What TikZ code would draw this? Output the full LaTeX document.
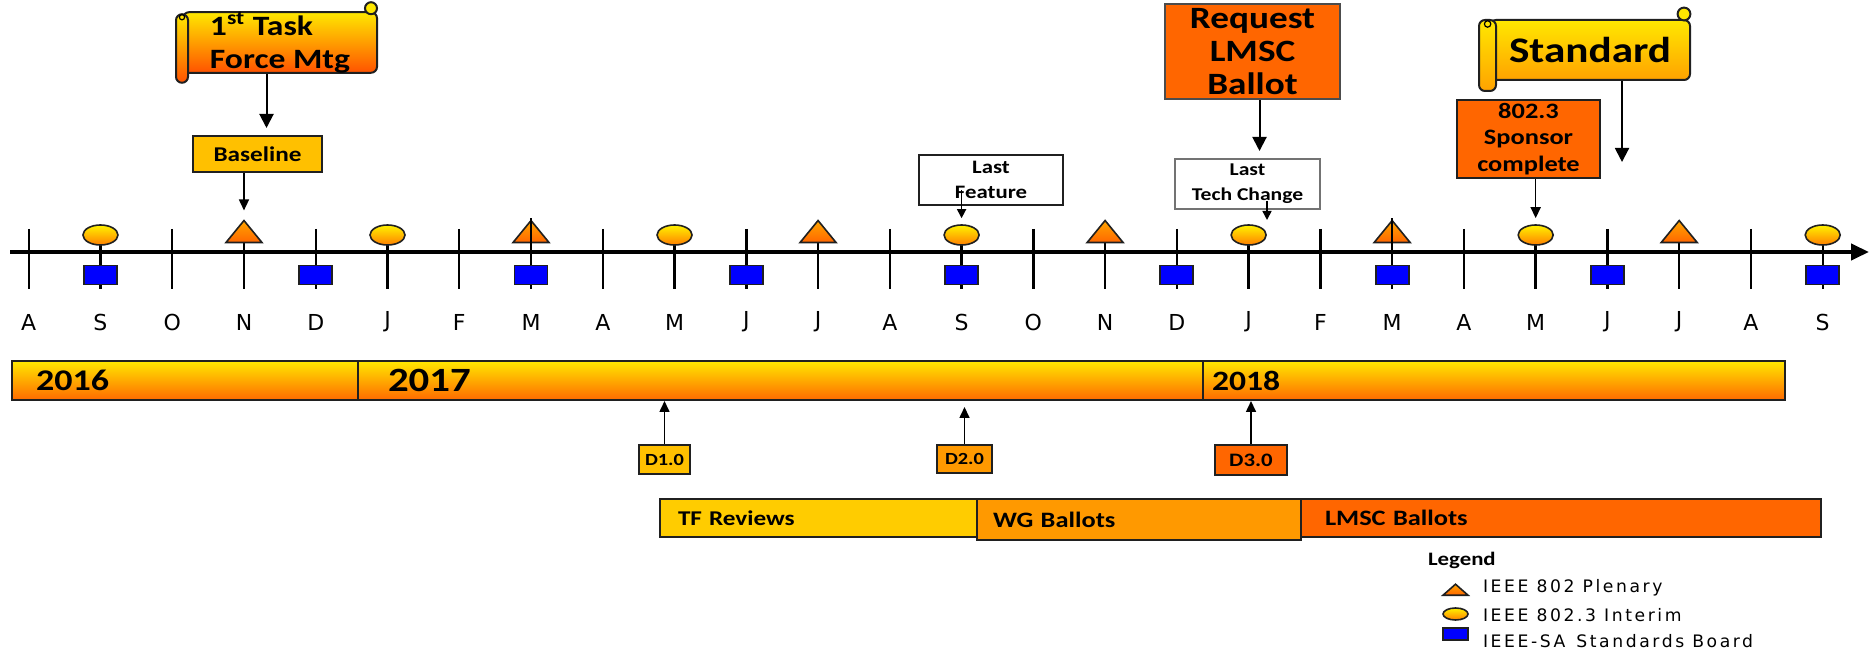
\documentclass[tikz,border=0pt]{standalone}
\usepackage{fontspec}
\setmainfont{Carlito}[FakeStretch=1.2]
\newfontfamily\monthfont{DejaVu Sans}
\newfontfamily\legfont{DejaVu Sans}[LetterSpace=15]
\usetikzlibrary{shapes.geometric,arrows.meta}

\definecolor{gold}{HTML}{FFC000}
\definecolor{tfyel}{HTML}{FFCC00}
\definecolor{midorg}{HTML}{FF9900}
\definecolor{deeporg}{HTML}{FF6600}
\definecolor{barTop}{HTML}{FFE800}
\definecolor{barBot}{HTML}{FF6A00}
\definecolor{stdBot}{HTML}{FFA200}
\definecolor{taskBot}{HTML}{FF5200}
\definecolor{sqblue}{HTML}{0000FF}
\definecolor{edge}{HTML}{202020}

\tikzset{
  box/.style={draw=edge, line width=1pt, inner sep=0pt, align=center},
  scrollbody/.style={draw=edge, line width=1pt, rounded corners=3pt, inner sep=0pt,
    top color=barTop, bottom color=#1},
  roll/.style={draw=edge, line width=1pt, rounded corners=3pt,
    top color=barTop, bottom color=#1},
  yearbar/.style={draw=edge, line width=1pt, top color=barTop, bottom color=barBot,
    minimum height=19.5pt, inner ysep=0pt, align=left},
  phase/.style={draw=edge, line width=1pt, minimum height=19pt, inner ysep=0pt,
    align=left, font=\bfseries\fontsize{11}{12}\selectfont},
  tick/.style={line width=1.2pt},
  month/.style={font=\monthfont\fontsize{11}{12}\selectfont},
  interim/.style={ellipse, draw=edge, line width=0.8pt, inner sep=0pt,
    top color=yellow!90!orange, bottom color=orange, minimum width=17.5pt, minimum height=10pt},
  plenary/.style={isosceles triangle, isosceles triangle stretches, shape border rotate=90,
    draw=edge, line width=0.8pt, inner sep=0pt, top color=orange!70!yellow,
    bottom color=orange!80!red, minimum width=18pt, minimum height=11pt},
  board/.style={draw=edge, line width=0.9pt, fill=sqblue, inner sep=0pt,
    minimum width=16.5pt, minimum height=9.5pt},
  bigarr/.style={line width=1pt, -{Triangle[width=7pt,length=7pt]}},
  midarr/.style={line width=0.8pt, -{Triangle[width=5pt,length=5.5pt]}},
  smallarr/.style={line width=0.8pt, -{Triangle[width=4.5pt,length=4.5pt]}},
  legtext/.style={anchor=west, font=\legfont\fontsize{8.6}{10}\selectfont}
}

\begin{document}
\begin{tikzpicture}[x=0.5pt, y=-0.5pt]
\useasboundingbox (0,0) rectangle (1872,651);

% time axis
\coordinate (ax0) at (10,252);
\coordinate (ax1) at (1869,252);
\draw[line width=2pt, -{Triangle[width=8pt,length=9pt]}] (ax0) -- (ax1);
\foreach \m [count=\i from 0] in {A,S,O,N,D,J,F,M,A,M,J,J,A,S,O,N,D,J,F,M,A,M,J,J,A,S}{
  \coordinate (t\i) at (28.7+71.76*\i,252);
  \draw[tick] (28.7+71.76*\i,229) -- (28.7+71.76*\i,289);
  \node[month] (m\i) at (28.7+71.76*\i,322) {\m};
}

% meetings
\foreach \i in {1,4,7,10,13,16,19,22,25}
  \node[board] (s\i) at (28.7+71.76*\i,275) {};
\foreach \i in {1,5,9,13,17,21,25}
  \node[interim] (e\i) at (28.7+71.76*\i,235) {};
\foreach \i in {3,7,11,15,19,23}
  \node[plenary] (p\i) at (28.7+71.76*\i,234) {};
\foreach \i in {7,19}
  \draw[tick] (t\i) -- (p\i.apex);

% milestones above the axis
\node[scrollbody=taskBot, minimum width=97pt, minimum height=27.5pt, align=left,
  font=\bfseries\fontsize{14}{16.5}\selectfont] (task) at (280,42.5)
  {1\textsuperscript{st} Task\\Force Mtg};
\draw[roll=taskBot] ([shift={(-3pt,-1.5pt)}]task.north west) rectangle ([shift={(3pt,-4.5pt)}]task.south west);
\draw[roll=barTop] ([shift={(-3.5pt,1.5pt)}]task.north east) circle (3pt);
\draw[line width=0.6pt] ([shift={(0pt,-3pt)}]task.north west) circle (1.3pt);

\node[box, fill=gold, minimum width=64.5pt, minimum height=18pt,
  font=\bfseries\fontsize{10.5}{12}\selectfont] (base) at (257.5,154) {Baseline};

\node[box, fill=white, minimum width=72pt, minimum height=25pt,
  font=\bfseries\fontsize{9.5}{12.5}\selectfont] (feat) at (991,180) {Last\\Feature};

\node[box, fill=deeporg, draw=black!70, minimum width=87.5pt, minimum height=47.5pt,
  font=\bfseries\fontsize{15.5}{16.4}\selectfont] (req) at (1252.5,51.5) {Request\\LMSC\\Ballot};

\node[box, fill=white, draw=black!55, minimum width=72.5pt, minimum height=25pt,
  font=\bfseries\fontsize{9}{12.5}\selectfont] (tech) at (1247.5,184) {Last\\Tech Change};

\node[box, fill=deeporg, minimum width=71.5pt, minimum height=39pt,
  font=\bfseries\fontsize{11}{13.3}\selectfont] (spon) at (1528.5,139) {802.3\\Sponsor\\complete};

\node[scrollbody=stdBot, minimum width=100pt, minimum height=30pt,
  font=\bfseries\fontsize{18}{20}\selectfont] (std) at (1590,50) {Standard};
\draw[roll=stdBot] ([shift={(-5pt,-0.5pt)}]std.north west) rectangle ([shift={(3.5pt,-5pt)}]std.south west);
\draw[roll=barTop] ([shift={(-3.5pt,2.5pt)}]std.north east) circle (3.2pt);
\draw[line width=0.6pt] ([shift={(-0.7pt,-2.5pt)}]std.north west) circle (1.6pt);

\coordinate (techend) at (1267,220);
\coordinate (stdend) at (1622,162);

\draw[bigarr, shorten >=3.5pt] ([xshift=4.5pt]base.north |- task.south) -- ([xshift=4.5pt]base.north);
\draw[midarr, shorten >=4pt] (base.south -| p3.apex) -- (p3.apex);
\draw[smallarr, shorten >=3pt] ([yshift=8pt]feat.south -| e13.north) -- (e13.north);
\draw[bigarr, shorten >=3.5pt] ([xshift=3.5pt]req.south) -- ([xshift=3.5pt]req.south |- tech.north);
\draw[smallarr] ([yshift=4.5pt]tech.south -| techend) -- (techend);
\draw[midarr, shorten >=3pt] (spon.south -| e21.north) -- (e21.north);
\draw[bigarr] (std.south -| stdend) -- (stdend);

% years
\node[yearbar, text width=149pt, inner xsep=12pt, font=\bfseries\fontsize{15}{15}\selectfont]
  (y2016) at (185,380.5) {2016};
\node[yearbar, text width=392.5pt, inner xsep=15pt, font=\bfseries\fontsize{17}{17}\selectfont]
  (y2017) at (780.5,380.5) {2017};
\node[yearbar, text width=282pt, inner xsep=4.5pt, font=\bfseries\fontsize{14}{14}\selectfont]
  (y2018) at (1494,380.5) {2018};

% drafts
\node[box, fill=gold, minimum width=25.5pt, minimum height=14.5pt,
  font=\bfseries\fontsize{8.5}{10}\selectfont] (d1) at (664.5,459.5) {D1.0};
\node[box, fill=midorg, minimum width=27.5pt, minimum height=14pt,
  font=\bfseries\fontsize{8.5}{10}\selectfont] (d2) at (964.5,459) {D2.0};
\node[box, fill=deeporg, minimum width=36pt, minimum height=15pt,
  font=\bfseries\fontsize{9.5}{10}\selectfont] (d3) at (1251,460) {D3.0};
\draw[midarr] (d1.north) -- (d1.north |- y2017.south);
\draw[midarr, shorten >=3pt] (d2.north) -- (d2.north |- y2017.south);
\draw[midarr] (d3.north) -- (d3.north |- y2018.south);

% ballot phases
\node[phase, fill=tfyel, text width=141.5pt, inner xsep=9pt,
  font=\bfseries\fontsize{10.5}{12}\selectfont] (tf) at (819.5,518) {TF Reviews};
\node[phase, fill=midorg, text width=146pt, inner xsep=8pt, minimum height=20.5pt]
  (wg) at (1139,519.5) {WG Ballots};
\node[phase, fill=deeporg, text width=236pt, inner xsep=12pt] (lmsc) at (1561,518) {LMSC Ballots};

% legend
\node[anchor=west, font=\bfseries\fontsize{9.5}{11}\selectfont] (leg) at (1421,560) {Legend};
\node[plenary, minimum width=12.5pt, minimum height=5.5pt] (lp) at (1455.5,590.5) {};
\node[legtext] (lpt) at (1476,588) {IEEE 802 Plenary};
\node[interim, minimum width=12.5pt, minimum height=6pt] (le) at (1455.5,614) {};
\node[legtext] (let) at (1476,615) {IEEE 802.3 Interim};
\node[board, minimum width=12.5pt, minimum height=6pt] (ls) at (1455.5,634) {};
\node[legtext] (lst) at (1476,641) {IEEE-SA\, Standards Board};
\end{tikzpicture}
\end{document}
